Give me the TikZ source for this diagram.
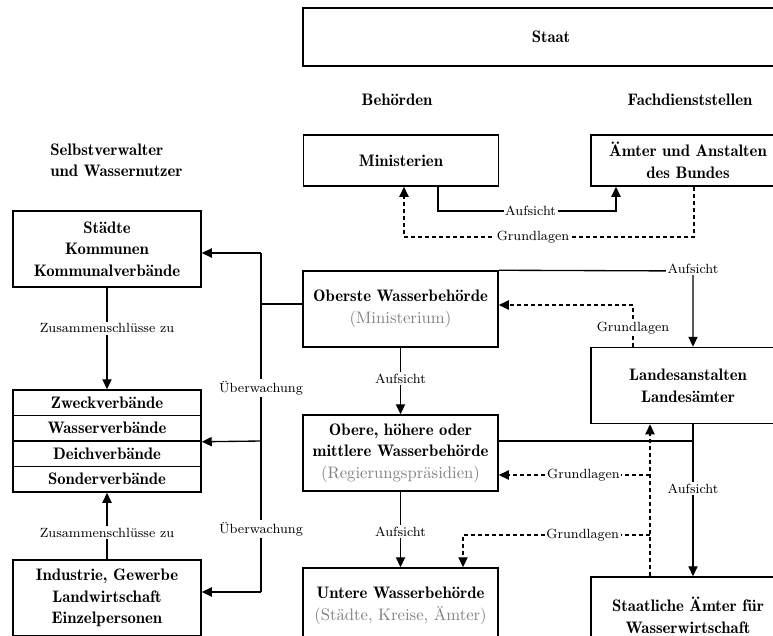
\documentclass[tikz,border=0pt]{standalone}
\usepackage{fontspec}
\newfontfamily\demifont{lmromandemi10-regular}[Extension=.otf]
\usetikzlibrary{arrows.meta}

\definecolor{subtext}{gray}{0.5}
\newcommand{\subline}[1]{{\rmfamily\textcolor{subtext}{#1}}}

\begin{document}
\begin{tikzpicture}[x=0.6pt,y=-0.6pt,
  box/.style={draw, line width=0.9pt, align=center, inner sep=0pt,
    font=\demifont\fontsize{10}{13}\selectfont},
  midbox/.style={box, minimum width=117pt, minimum height=45.6pt},
  rightbox/.style={box, minimum width=116.4pt, minimum height=45.6pt},
  leftbox/.style={box, minimum width=112.8pt, minimum height=45.6pt},
  cellbox/.style={box, minimum width=112.8pt, minimum height=15.3pt},
  heading/.style={font=\demifont\fontsize{10}{12.5}\selectfont, inner sep=0pt},
  lbl/.style={font=\footnotesize, fill=white, inner sep=1pt},
  plain/.style={line width=0.8pt},
  conn/.style={plain, -{Triangle[length=6pt,width=5.5pt]}},
  dashconn/.style={conn, dash pattern=on 2.4pt off 1.8pt},
]
\useasboundingbox (0,0) rectangle (773,635);
\clip (0,0) rectangle (773,635);

% --- headings ---
\node[box, minimum width=297.6pt, minimum height=34.8pt] (staat) at (551,37) {Staat};
\node[heading] (behoerden) at (397,100) {Behörden};
\node[heading] (fach) at (690,100) {Fachdienststellen};
\node[heading, align=left, anchor=west] (selbst) at (50,160) {Selbstverwalter\\ und Wassernutzer};

% --- federal level ---
\node[box, minimum width=117pt, minimum height=30.6pt] (minist) at (401,160.5) {Ministerien};
\node[box, minimum width=116.4pt, minimum height=30.6pt] (bund) at (688,160.5) {Ämter und Anstalten\\des Bundes};

% --- self-governing bodies and water users ---
\node[leftbox] (staedte) at (107,249) {Städte\\Kommunen\\Kommunalverbände};
\node[cellbox] (zweck) at (107,402.75) {Zweckverbände};
\node[cellbox] (wasser) at (107,428.25) {Wasserverbände};
\node[cellbox] (deich) at (107,453.75) {Deichverbände};
\node[cellbox] (sonder) at (107,479.25) {Sonderverbände};
\node[leftbox] (industrie) at (107,598) {Industrie, Gewerbe\\Landwirtschaft\\Einzelpersonen};

% --- water authorities ---
\node[midbox] (oberste) at (400.5,309) {Oberste Wasserbehörde\\\subline{(Ministerium)}};
\node[midbox] (obere) at (400.5,453) {Obere, höhere oder\\mittlere Wasserbehörde\\\subline{(Regierungspräsidien)}};
\node[midbox] (untere) at (400.5,606) {Untere Wasserbehörde\\\subline{(Städte, Kreise, Ämter)}};

% --- state agencies ---
\node[rightbox] (landes) at (688,385.5) {Landesanstalten\\Landesämter};
\node[rightbox] (staatl) at (688,615) {Staatliche Ämter für\\Wasserwirtschaft};

% --- helper points ---
\coordinate (m1) at (438,211);
\coordinate (m2) at (616,211);
\coordinate (g1) at (694,237);
\coordinate (g2) at (404,237);
\coordinate (u0) at (261,304);
\coordinate (u1) at (261,253);
\coordinate (u2) at (261,441);
\coordinate (u3) at (261,592);
\coordinate (a1) at (693,271);
\coordinate (g3) at (633,305);
\coordinate (h1) at (693,441);
\coordinate (d1) at (650,441);
\coordinate (d2) at (650,475);
\coordinate (d3) at (650,535);
\coordinate (d4) at (463,535);

% --- federal connectors ---
\draw[conn] (minist.south -| m1) -- (m1) -- node[lbl, pos=0.52] {Aufsicht} (m2) -- (bund.south -| m2);
\draw[dashconn] (bund.south -| g1) -- (g1) -- node[lbl, pos=0.555] {Grundlagen} (g2) -- (minist.south -| g2);

% --- supervision of self-governing bodies ---
\draw[plain] (oberste.west |- u0) -- (u0);
\draw[plain] (u1) -- node[lbl, pos=0.398] {Überwachung} node[lbl, pos=0.814] {Überwachung} (u3);
\draw[conn] (u1) -- (staedte.east |- u1);
\draw[conn] (u2) -- (wasser.south east);
\draw[conn] (u3) -- (industrie.east |- u3);

% --- associations ---
\draw[conn] (staedte.south) -- node[lbl, pos=0.4] {Zusammenschlüsse zu} (zweck.north);
\draw[conn] (industrie.north) -- node[lbl, pos=0.4] {Zusammenschlüsse zu} (sonder.south);

% --- chain of water authorities ---
\draw[conn] (oberste.south) -- node[lbl, pos=0.46] {Aufsicht} (obere.north);
\draw[conn] (obere.south) -- node[lbl, pos=0.53] {Aufsicht} (untere.north);

% --- state agencies connectors ---
\draw[conn] (oberste.north east) -- (a1) node[lbl, yshift=1.5pt] {Aufsicht} -- (landes.north -| a1);
\draw[dashconn] (landes.north -| g3) -- node[lbl, pos=0.45] {Grundlagen} (g3) -- (oberste.east |- g3);
\draw[plain] (obere.east |- h1) -- (h1);
\draw[conn] (landes.south -| h1) -- node[lbl, pos=0.425] {Aufsicht} (staatl.north -| h1);
\draw[dashconn] (staatl.north -| d1) -- (landes.south -| d1);
\draw[dashconn] (d2) -- node[lbl, pos=0.44] {Grundlagen} (obere.east |- d2);
\draw[dashconn] (d3) -- node[lbl, pos=0.36] {Grundlagen} (d4) -- (untere.north -| d4);
\end{tikzpicture}
\end{document}
